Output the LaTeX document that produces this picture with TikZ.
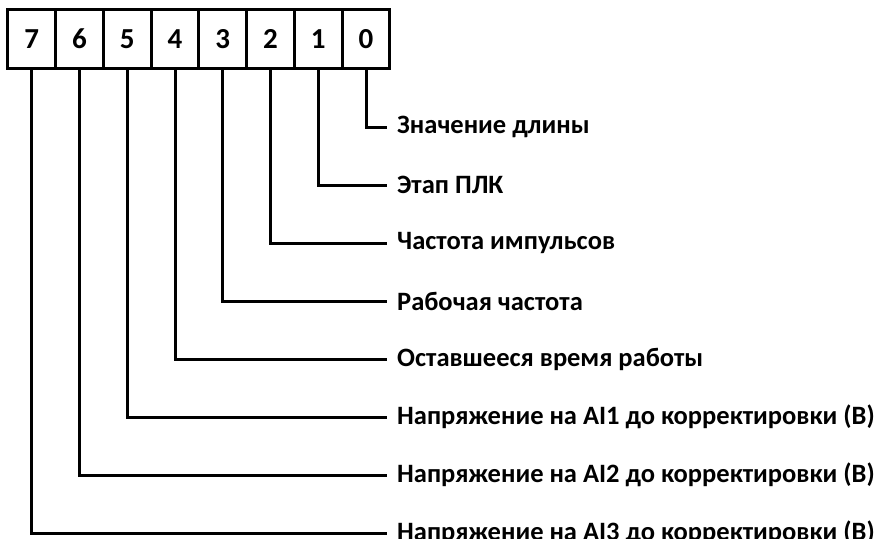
\documentclass[tikz,border=0pt]{standalone}
\usepackage{fontspec}
\setmainfont{Carlito}
\begin{document}
\begin{tikzpicture}[x=1pt,y=-1pt,
  bitbox/.style={draw,line width=3pt,minimum width=47.75pt,minimum height=59pt,inner sep=0pt,
    font=\fontsize{29}{33}\selectfont\bfseries},
  lbl/.style={anchor=west,inner xsep=10pt,inner ysep=0pt,font=\fontsize{26.5}{31}\selectfont\bfseries},
  conn/.style={line width=3pt}]
\useasboundingbox (0,0) rectangle (882,538);
\foreach \i in {0,...,7}{
  \node[bitbox] (b\i) at ({366-47.75*\i},39) {\i};
}
\node[lbl] (t0) at (387,127) {Значение длины};
\node[lbl] (t1) at (387,185) {Этап ПЛК};
\node[lbl] (t2) at (387,243) {Частота импульсов};
\node[lbl] (t3) at (387,301) {Рабочая частота};
\node[lbl] (t4) at (387,359) {Оставшееся время работы};
\node[lbl] (t5) at (387,417) {Напряжение на AI1 до корректировки (В)};
\node[lbl] (t6) at (387,475) {Напряжение на AI2 до корректировки (В)};
\node[lbl] (t7) at (387,533) {Напряжение на AI3 до корректировки (В)};
\foreach \i in {0,...,7}{
  \draw[conn] (b\i.south) |- (t\i.west);
}
\end{tikzpicture}
\end{document}
